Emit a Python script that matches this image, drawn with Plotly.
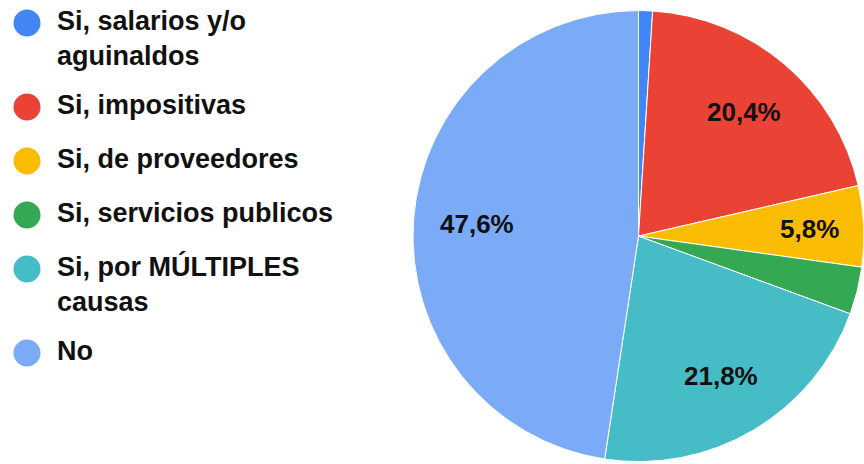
import math
import plotly.graph_objects as go

categories = ["Si, salarios y/o<br>aguinaldos", "Si, impositivas", "Si, de proveedores",
              "Si, servicios publicos", "Si, por MÚLTIPLES<br>causas", "No"]
values = [1.0, 20.4, 5.8, 3.4, 21.8, 47.6]
colors = ["#4285F4", "#EA4335", "#FBBC04", "#34A853", "#46BDC6", "#7BAAF7"]

W, H = 864, 464
FONT = "Liberation Sans"
FS_LEG = 27
FS_PIE = 26

PIE_DX = [0.478, 1.0]
PIE_DY = [0.0043, 0.978]

fig = go.Figure()
fig.add_trace(go.Pie(
    labels=[c.replace("<br>", " ") for c in categories],
    values=values,
    sort=False,
    direction="clockwise",
    rotation=0,
    marker=dict(colors=colors, line=dict(color="white", width=1)),
    textinfo="none",
    domain=dict(x=PIE_DX, y=PIE_DY),
    showlegend=False,
    hoverinfo="label+percent",
))

# slice labels placed along each slice's bisector (tiny slices unlabeled)
px_w = (PIE_DX[1] - PIE_DX[0]) * W
px_h = (PIE_DY[1] - PIE_DY[0]) * H
R = min(px_w, px_h) / 2
cx = (PIE_DX[0] + PIE_DX[1]) / 2 * W
cy = (1 - (PIE_DY[0] + PIE_DY[1]) / 2) * H
total = sum(values)
cum = 0.0
for v in values:
    frac = v / total
    mid = (cum + frac / 2) * 2 * math.pi
    cum += frac
    if frac < 0.05:
        continue
    k = 0.72 if frac > 0.1 else 0.76
    lx = cx + k * R * math.sin(mid)
    ly = cy - k * R * math.cos(mid)
    fig.add_annotation(
        x=lx / W, y=1 - ly / H, xref="paper", yref="paper",
        text=f"{frac*100:.1f}%".replace(".", ","),
        showarrow=False, xanchor="center", yanchor="middle",
        font=dict(family=FONT, size=FS_PIE, color="#111111", weight="bold"),
    )

# custom legend with large circle markers
nlines = [c.count("<br>") + 1 for c in categories]
ys = []
y = 23
for n in nlines:
    ys.append(y)
    y += 54 + 30 * (n - 1)
LH = 1.3 * FS_LEG
text_ys = [yy + (n - 1) * LH / 2 for yy, n in zip(ys, nlines)]

fig.add_trace(go.Scatter(
    x=[27] * len(categories), y=ys, mode="markers",
    marker=dict(size=27, color=colors, line=dict(width=0)),
    showlegend=False, hoverinfo="skip", xaxis="x", yaxis="y",
))
fig.add_trace(go.Scatter(
    x=[57] * len(categories), y=text_ys, mode="text",
    text=categories, textposition="middle right",
    textfont=dict(family=FONT, size=FS_LEG, color="#111111", weight="bold"),
    showlegend=False, hoverinfo="skip", xaxis="x", yaxis="y",
))

fig.update_layout(
    width=W, height=H,
    margin=dict(l=0, r=0, t=0, b=0),
    paper_bgcolor="white", plot_bgcolor="rgba(0,0,0,0)",
    xaxis=dict(domain=[0, 0.47], range=[0, 0.47 * W], visible=False, fixedrange=True),
    yaxis=dict(domain=[0, 1], range=[H, 0], visible=False, fixedrange=True),
    showlegend=False,
)

fig.write_html("out.html",
               config={"displayModeBar": False},
               post_script="document.body.style.margin='0';document.body.style.overflow='hidden';")
